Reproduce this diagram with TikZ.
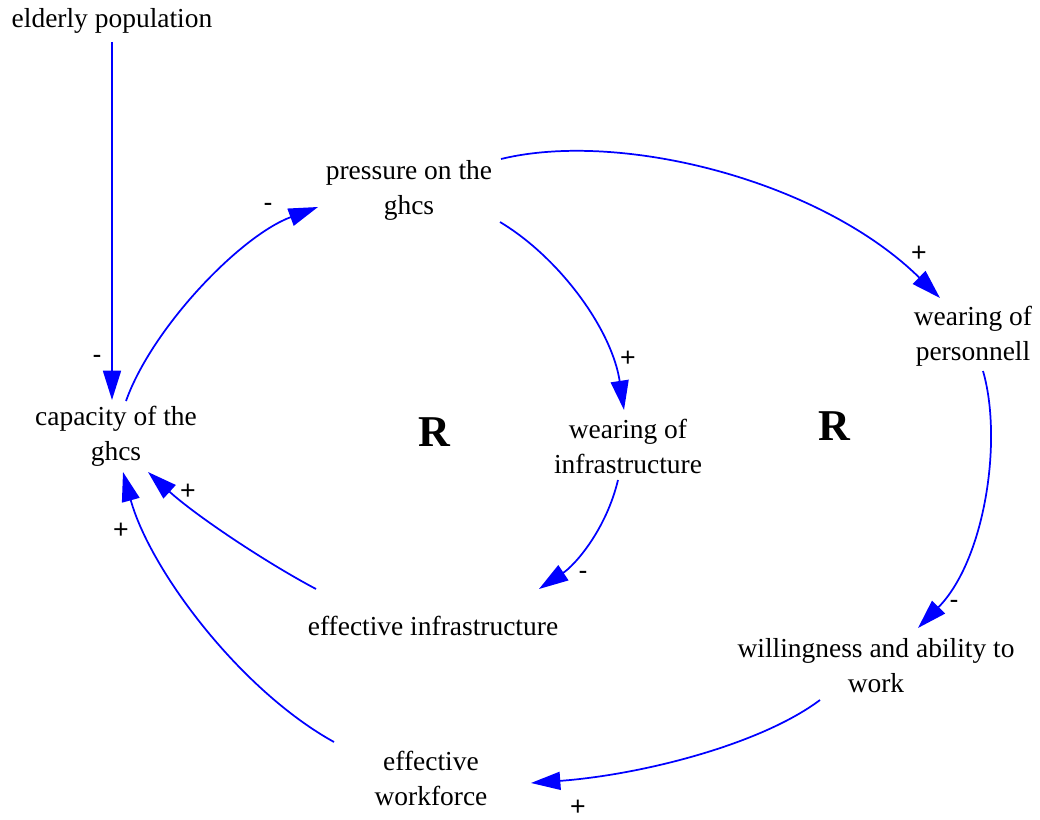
\documentclass[tikz,border=0pt]{standalone}
\usepackage{fontspec}
\setmainfont{Liberation Serif}
\newfontfamily\signfont{Liberation Sans}
\usetikzlibrary{arrows.meta,calc}
\begin{document}
\begin{tikzpicture}[x=0.75pt,y=-0.75pt,
  var/.style={align=center,inner sep=0pt,font=\fontsize{20.6}{26.25}\selectfont},
  sign/.style={inner sep=0pt,font=\signfont\fontsize{20}{24}\selectfont},
  loopmark/.style={inner sep=0pt,font=\fontsize{33}{40}\selectfont\bfseries},
  link/.style={draw={rgb,255:red,0;green,0;blue,255},line width=1.3pt,
    -{Triangle[length=22pt,width=13.5pt]},fill=none}]
\useasboundingbox (0,0) rectangle (1040,820);

% variables
\node[var] (elder) at (112,21) {elderly population};
\node[var] (press) at (409,190) {pressure on the\\ghcs};
\node[var] (cap)   at (116,436) {capacity of the\\ghcs};
\node[var] (winf)  at (628,446) {wearing of\\infrastructure};
\node[var] (wper)  at (973,336) {wearing of\\personnell};
\node[var] (einf)  at (433,626) {effective infrastructure};
\node[var] (will)  at (876,666) {willingness and ability to\\work};
\node[var] (ewf)   at (431,778) {effective\\workforce};

% loop markers
\node[loopmark] (r1) at (434,432) {R};
\node[loopmark] (r2) at (834,426) {R};

% causal links
\draw[link] ($(elder)+(0,21)$) -- ($(cap)+(-4,-36)$);
\draw[link] ($(cap)+(10,-35)$) .. controls (152,328) and (240,236) .. ($(press)+(-91,17)$);
\draw[link] ($(press)+(91,32)$) .. controls (560,258) and (612,330) .. ($(winf)+(-4,-36)$);
\draw[link] ($(press)+(92,-31)$) .. controls (620,130) and (820,180) .. ($(wper)+(-33,-38)$);
\draw[link] ($(winf)+(-10,34)$) .. controls (606,530) and (575,565) .. ($(einf)+(106,-37)$);
\draw[link] ($(einf)+(-117,-37)$) .. controls (265,562) and (195,515) .. ($(cap)+(32,36)$);
\draw[link] ($(wper)+(10,35)$) .. controls (1003,440) and (985,560) .. ($(will)+(42,-38)$);
\draw[link] ($(will)+(-56,34)$) .. controls (760,745) and (640,775) .. ($(ewf)+(100,5)$);
\draw[link] ($(ewf)+(-97,-36)$) .. controls (240,690) and (150,570) .. ($(cap)+(7,36)$);

% polarities
\node[sign] (s1) at (97,359) {-};
\node[sign] (s2) at (268,207) {-};
\node[sign] (s3) at (628,359) {+};
\node[sign] (s4) at (919,254) {+};
\node[sign] (s5) at (583,575) {-};
\node[sign] (s6) at (188,492) {+};
\node[sign] (s7) at (954,604) {-};
\node[sign] (s8) at (578,808) {+};
\node[sign] (s9) at (121,531) {+};
\end{tikzpicture}
\end{document}
